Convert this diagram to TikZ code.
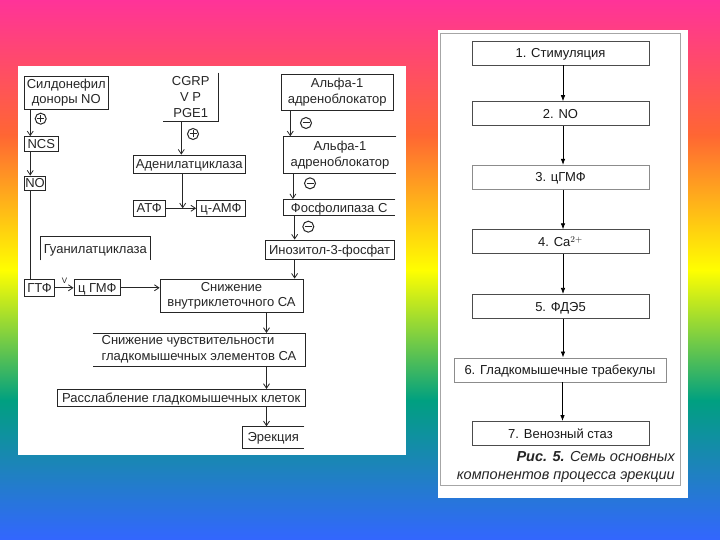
\documentclass[tikz,border=0pt]{standalone}
\usepackage{fontspec}
\setmainfont{Liberation Sans}
\usetikzlibrary{arrows.meta,calc}
\definecolor{cpink}{RGB}{255,51,153}
\definecolor{corange}{RGB}{255,102,51}
\definecolor{cyellow}{RGB}{255,255,0}
\definecolor{cteal}{RGB}{0,160,128}
\definecolor{csteel}{RGB}{30,130,190}
\definecolor{cblue}{RGB}{51,102,255}
\begin{document}
\begin{tikzpicture}[x=1pt,y=-1pt,
  lb/.style={draw=black!85, line width=0.8pt, inner sep=0pt, font=\fontsize{13}{15.7}\selectfont, text=black!85, align=center},
  ln/.style={lb, draw=none},
  oneline/.style={text height=9.3pt, text depth=0pt},
  edge/.style={draw=black!85, line width=0.8pt},
  la/.style={draw=black!85, line width=0.8pt, -{Straight Barb[length=4.5pt,width=6pt]}},
  rb/.style={draw=black!70, line width=0.9pt, minimum width=177pt, minimum height=24pt, inner sep=0pt, font=\fontsize{13}{15}\selectfont, text=black!90, oneline},
  ra/.style={draw=black, line width=0.7pt, -{Latex[length=6pt,width=4.5pt]}},
  sgn/.style={circle, draw=black!85, line width=1pt, minimum size=11pt, inner sep=0pt},
  plussign/.style={sgn, path picture={\draw[line width=1pt]
     ([xshift=-3.5pt]path picture bounding box.center) -- ([xshift=3.5pt]path picture bounding box.center)
     ([yshift=-3.5pt]path picture bounding box.center) -- ([yshift=3.5pt]path picture bounding box.center);}},
  minussign/.style={sgn, path picture={\draw[line width=1pt]
     ([xshift=-3.5pt]path picture bounding box.center) -- ([xshift=3.5pt]path picture bounding box.center);}},
]
\useasboundingbox (0,0) rectangle (720,540);
% background gradient
\shade[top color=cpink, bottom color=corange] (0,0) rectangle (720,135.5);
\shade[top color=corange, bottom color=cyellow] (0,135) rectangle (720,270.5);
\shade[top color=cyellow, bottom color=cteal] (0,270) rectangle (720,400.5);
\shade[top color=cteal, bottom color=csteel] (0,400) rectangle (720,470.5);
\shade[top color=csteel, bottom color=cblue] (0,470) rectangle (720,540);
% panels
\fill[white] (17.5,66) rectangle (406,455);
\fill[white] (437.5,30) rectangle (687.5,498);
\draw[black!35, line width=0.6pt] (440,33) rectangle (680,485);

% ---------- left diagram ----------
\node[lb, minimum width=83.3pt, minimum height=33pt] (sild) at (66.3,92.5) {Силдонефил\\доноры NO};
\node[lb, oneline, minimum width=33.3pt, minimum height=14.3pt] (ncs) at (41.3,143.8) {NCS};
\node[lb, oneline, minimum width=20.6pt, minimum height=14pt] (no) at (35,183) {NO};
\node[ln, minimum width=55.5pt, minimum height=48pt] (cgrp) at (190.7,97) {CGRP\\V P\\PGE1};
\node[lb, oneline, minimum width=112.6pt, minimum height=18.3pt] (adc) at (189.3,164.2) {Аденилатциклаза};
\node[lb, oneline, minimum width=32.3pt, minimum height=16pt] (atf) at (149.2,208.3) {АТФ};
\node[lb, oneline, minimum width=49pt, minimum height=16pt] (camp) at (221,208.3) {ц-АМФ};
\node[lb, minimum width=112.5pt, minimum height=35.7pt] (alpha1) at (337.2,92.2) {Альфа-1\\адреноблокатор};
\node[ln, minimum width=112pt, minimum height=36.3pt] (alpha2) at (340,154.8) {Альфа-1\\адреноблокатор};
\node[ln, oneline, minimum width=111.7pt, minimum height=16pt] (plc) at (339.2,207.5) {Фосфолипаза С};
\node[lb, oneline, minimum width=128.8pt, minimum height=19.3pt] (ip3) at (329.6,249.6) {Инозитол-3-фосфат};
\node[ln, oneline, minimum width=109.5pt, minimum height=23pt] (gc) at (95.3,248.5) {Гуанилатциклаза};
\node[lb, oneline, minimum width=29.8pt, minimum height=16.5pt] (gtf) at (39.6,287.8) {ГТФ};
\node[lb, oneline, minimum width=46.7pt, minimum height=16pt] (cgmp) at (97.3,287.8) {ц ГМФ};
\node[lb, minimum width=143pt, minimum height=33.3pt] (sn1) at (231.5,295.7) {Снижение\\внутриклеточного СА};
\node[ln, minimum width=212pt, minimum height=32.2pt, align=left] (sn2) at (199,349.4) {Снижение чувствительности\\гладкомышечных элементов СА};
\node[lb, oneline, minimum width=247.7pt, minimum height=17pt] (rel) at (181.2,397.8) {Расслабление гладкомышечных клеток};
\node[ln, oneline, minimum width=61.7pt, minimum height=21pt] (ere) at (273.2,437.2) {Эрекция};

% partial borders
\draw[edge] (cgrp.north east) -- (cgrp.south east) -- (cgrp.south west);
\draw[edge] (alpha2.north east) -- (alpha2.north west) -- (alpha2.south west) -- (alpha2.south east);
\draw[edge] (plc.north east) -- (plc.north west) -- (plc.south west) -- (plc.south east);
\draw[edge] (gc.south west) -- (gc.north west) -- (gc.north east) -- (gc.south east);
\draw[edge] (sn2.north west) -- (sn2.north east) -- (sn2.south east) -- (sn2.south west);
\draw[edge] (ere.north east) -- (ere.north west) -- (ere.south west) -- (ere.south east);

% signs
\node[plussign] (s1) at (40.7,118.7) {};
\node[plussign] (s2) at (193,134) {};
\node[minussign] (s3) at (306,123) {};
\node[minussign] (s4) at (310,183.3) {};
\node[minussign] (s5) at (308.3,226.7) {};
\node[font=\fontsize{8}{8}\selectfont, text=black!85, inner sep=0pt] (vl) at (64.5,280.5) {V};

% connectors
\draw[la] ($(sild.south west)+(6,0)$) coordinate (a1) -- (a1 |- ncs.north);
\draw[la] ($(ncs.south west)+(6,0)$) coordinate (a2) -- (a2 |- no.north);
\draw[edge] ($(no.south west)+(6,0)$) coordinate (a3) -- (a3 |- gtf.north);
\draw[la] ($(cgrp.south)+(-9.4,0)$) coordinate (a4) -- (a4 |- adc.north);
\draw[la] ($(adc.south)+(-6.6,0)$) coordinate (a5) -- (a5 |- atf.east);
\draw[la] (atf.east) -- (camp.west);
\draw[la] ($(alpha1.south west)+(9.7,0)$) coordinate (a6) -- (a6 |- alpha2.north);
\draw[la] ($(alpha2.south west)+(9.3,0)$) coordinate (a7) -- (a7 |- plc.north);
\draw[la] ($(plc.south west)+(11.7,0)$) coordinate (a8) -- (a8 |- ip3.north);
\draw[la] ($(ip3.south west)+(29.8,0)$) coordinate (a9) -- (a9 |- sn1.north);
\draw[la] (gtf.east) -- (cgmp.west);
\draw[la] (cgmp.east) -- (cgmp.east -| sn1.west);
\draw[la] ($(sn1.south)+(35,0)$) coordinate (b1) -- (b1 |- sn2.north);
\draw[la] (b1 |- sn2.south) coordinate (b2) -- (b2 |- rel.north);
\draw[la] (b1 |- rel.south) coordinate (b3) -- (b3 |- ere.north);

% ---------- right diagram ----------
\node[rb] (r1) at (560.5,53) {1. Стимуляция};
\node[rb] (r2) at (560.5,113.7) {2. NO};
\node[rb, draw=black!45] (r3) at (560.5,177.3) {3. цГМФ};
\node[rb] (r4) at (560.5,241.8) {4. Ca$^{2+}$};
\node[rb] (r5) at (560.5,306.4) {5. ФДЭ5};
\node[rb, draw=black!45, minimum width=212pt] (r6) at (560,370) {6. Гладкомышечные трабекулы};
\node[rb] (r7) at (560.5,433.5) {7. Венозный стаз};
\foreach \u/\v in {r1/r2,r2/r3,r3/r4,r4/r5,r5/r6,r6/r7}{
  \draw[ra] ($(\u.south)+(2.5,0)$) coordinate (t) -- (t |- \v.north);
}
\node[anchor=east, align=right, inner sep=0pt, text=black!85, font=\fontsize{14.5}{17.5}\selectfont\itshape] (cap) at (675,467) {\textbf{Рис. 5.} Семь основных\\компонентов процесса эрекции};
\end{tikzpicture}
\end{document}
